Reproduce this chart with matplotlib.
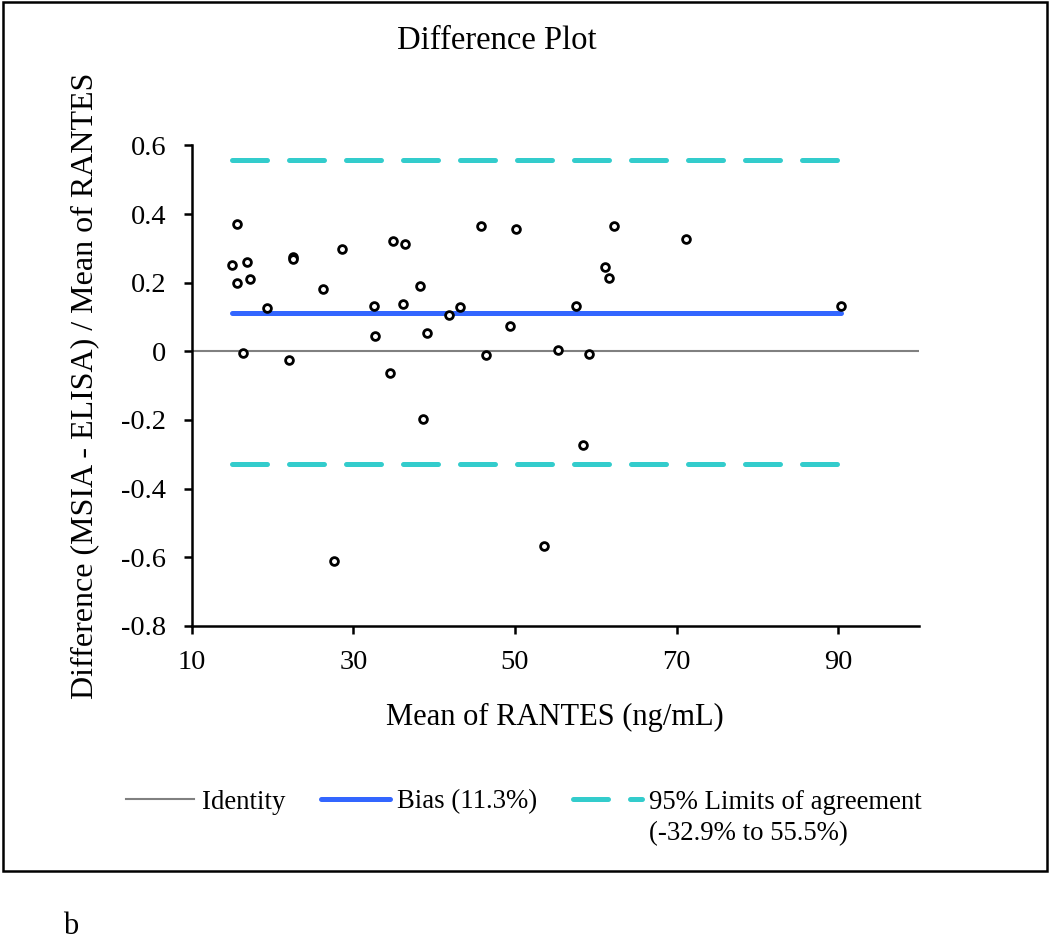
import matplotlib
matplotlib.use("Agg")
import matplotlib.pyplot as plt
from matplotlib.patches import Rectangle
from matplotlib.lines import Line2D

plt.rcParams['font.family'] = ['Liberation Serif', 'DejaVu Serif']
plt.rcParams['axes.unicode_minus'] = False

# ---- data ----
mean_rantes = [14.95, 15.6, 16.9, 15.6, 17.2, 16.3, 19.35, 22.0, 22.5, 22.5,
               26.3, 28.6, 27.6, 32.5, 32.7, 34.5, 34.9, 36.4, 36.1, 38.3,
               38.6, 39.1, 41.8, 43.2, 45.75, 46.4, 49.4, 50.1, 53.6, 55.35,
               57.6, 58.4, 59.2, 61.1, 61.6, 62.2, 71.15, 90.3]
rel_diff = [0.253, 0.370, 0.260, 0.200, 0.211, -0.004, 0.125, -0.025, 0.275, 0.268,
            0.181, 0.298, -0.612, 0.133, 0.045, -0.064, 0.321, 0.313, 0.137, 0.189,
            -0.196, 0.054, 0.105, 0.129, 0.364, -0.011, 0.075, 0.356, -0.568, 0.004,
            0.133, -0.273, -0.008, 0.245, 0.215, 0.365, 0.328, 0.132]
bias = 0.113
loa_low = -0.329
loa_high = 0.558
identity = 0.0
x_range = [10, 100]
line_span = [min(mean_rantes), max(mean_rantes)]
xticks = [10, 30, 50, 70, 90]
yticks = [-0.8, -0.6, -0.4, -0.2, 0.0, 0.2, 0.4, 0.6]

title = "Difference Plot"
xlabel = "Mean of RANTES (ng/mL)"
ylabel = "Difference (MSIA - ELISA) / Mean of RANTES"
leg_labels = ["Identity", "Bias (11.3%)", "95% Limits of agreement"]
leg_label2 = "(-32.9% to 55.5%)"
panel = "b"

c_blue = "#3366ff"
c_teal = "#33cccc"
c_gray = "#808080"

W, H = 1050, 940
fig = plt.figure(figsize=(W / 100, H / 100), dpi=100)
ax = fig.add_axes([191.7 / W, 1 - 625.7 / H, (919 - 191.7) / W, (625.7 - 145.5) / H])

ax.plot(x_range, [identity, identity], color=c_gray, lw=1.5, zorder=1,
        solid_capstyle='butt')
ax.plot(line_span, [bias, bias], color=c_blue, lw=3.6, solid_capstyle='round', zorder=2)
dash = (0, (7.0, 4.4))
ax.plot(line_span, [loa_high, loa_high], color=c_teal, lw=3.6, ls=dash,
        dash_capstyle='round', zorder=2)
ax.plot(line_span, [loa_low, loa_low], color=c_teal, lw=3.6, ls=dash,
        dash_capstyle='round', zorder=2)
ax.plot(mean_rantes, rel_diff, ls='none', marker='o', ms=5.6, mew=2.0,
        mfc='white', mec='black', zorder=3)

ax.set_xlim(*x_range)
ax.set_ylim(-0.8, 0.6)
ax.set_xticks(xticks)
ax.set_yticks(yticks)
ax.set_yticklabels(["0" if abs(v) < 1e-9 else f"{v:.1f}" for v in yticks])
ax.set_xticklabels([str(v) for v in xticks])
for s in ['top', 'right']:
    ax.spines[s].set_visible(False)
for s in ['left', 'bottom']:
    ax.spines[s].set_linewidth(1.8)
ax.tick_params(direction='out', length=5.8, width=1.8, labelsize=20.5)
ax.tick_params(axis='y', pad=12.5)
ax.tick_params(axis='x', pad=12)
ax.set_xlabel(xlabel, fontsize=22, labelpad=20)
ax.set_ylabel(ylabel, fontsize=23, labelpad=16)

fig.text(497 / W, 1 - 41 / H, title, fontsize=23.5, ha='center', va='center')

handles = [
    Line2D([], [], color=c_gray, lw=1.5),
    Line2D([], [], color=c_blue, lw=3.6, solid_capstyle='round'),
    Line2D([], [], color=c_teal, lw=3.6, ls=dash, dash_capstyle='round'),
]
leg = fig.legend(handles, leg_labels, ncol=3, loc='center',
                 bbox_to_anchor=(524 / W, 1 - 802 / H), frameon=False,
                 fontsize=19.3, handlelength=2.55, handletextpad=0.28,
                 columnspacing=1.35, borderaxespad=0, borderpad=0)

fig.canvas.draw()
r = fig.canvas.get_renderer()
tb = leg.get_texts()[2].get_window_extent(r)
fig.text(tb.x0 / W, 1 - 834 / H, leg_label2, fontsize=19.3, ha='left', va='center')

fig.add_artist(Rectangle((3 / W, 1 - 871 / H), (1046.5 - 3) / W, (871 - 2) / H,
                         transform=fig.transFigure, fill=False, lw=1.8,
                         edgecolor='black'))
fig.text(71 / W, 1 - 927 / H, panel, fontsize=22, ha='center', va='center')

fig.savefig("out.png", dpi=100)
